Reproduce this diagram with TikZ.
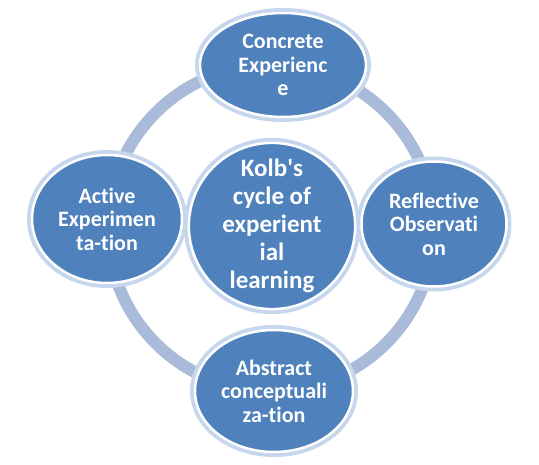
\documentclass[tikz,border=0pt]{standalone}
\usepackage{fontspec}
\defaultfontfeatures[\rmfamily]{}
\defaultfontfeatures{}
\setmainfont{Carlito}[Ligatures=NoCommon]
\usetikzlibrary{shapes.geometric}
\definecolor{kblue}{HTML}{4F81BD}
\definecolor{kglow}{HTML}{C6D6EC}
\definecolor{kring}{HTML}{A9BBD9}
\begin{document}
\begin{tikzpicture}[x=1pt, y=1pt,
  st/.style={ellipse, fill=kblue, draw=white, line width=2.5pt, inner sep=0pt,
    preaction={draw=kglow, line width=10pt},
    text=white, align=center, font=\bfseries\fontsize{22}{23.5}\selectfont},
  mid/.style={st, circle, minimum size=154, font=\bfseries\fontsize{25}{28}\selectfont},
  ring/.style={draw=kring, line width=12pt}]
\useasboundingbox (0,0) rectangle (539,-465);
\coordinate (ctr) at (271,-228);
\draw[ring] (ctr) circle (163);
\node[st, minimum width=166, minimum height=104] (ce) at (283,-65) {Concrete\\Experienc\\e};
\node[st, minimum width=145, minimum height=125] (ro) at (434,-224) {Reflective\\Observati\\on};
\node[st, minimum width=158, minimum height=122] (ac) at (274,-391) {Abstract\\conceptuali\\za-tion};
\node[st, minimum width=150, minimum height=128] (ae) at (107,-219) {Active\\Experimen\\ta-tion};
\node[mid] (kolb) at (272,-226) {Kolb\textquotesingle s\\cycle of\\experient\\ial\\learning};
\end{tikzpicture}
\end{document}
